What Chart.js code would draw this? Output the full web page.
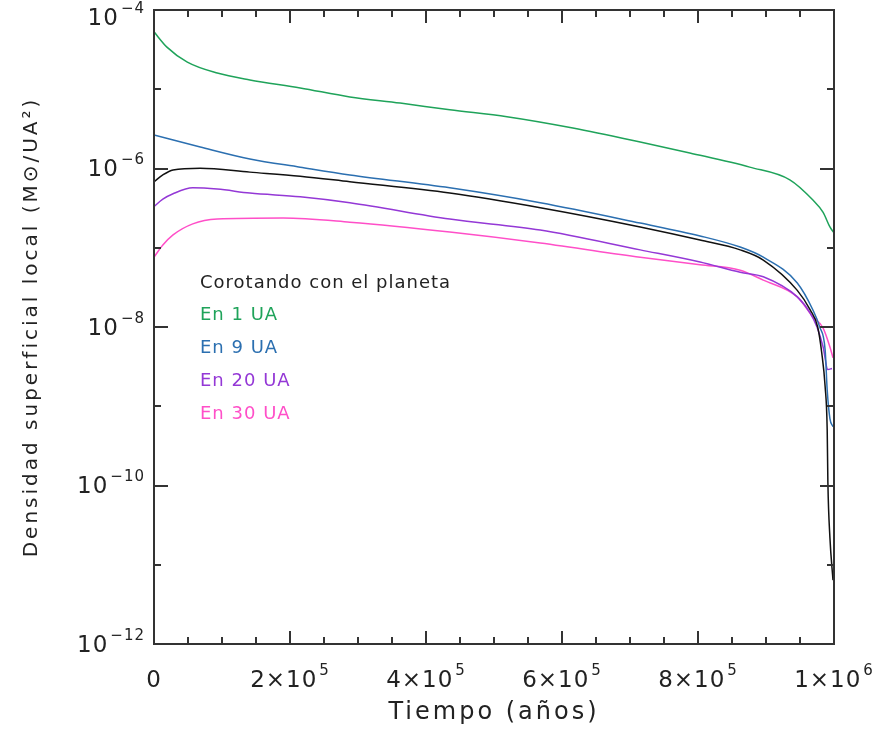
<!DOCTYPE html>
<html lang="es">
<head>
<meta charset="utf-8">
<title>Densidad superficial local</title>
<script src="https://cdn.jsdelivr.net/npm/chart.js@4.4.1/dist/chart.umd.min.js"></script>
<style>
  html, body { margin: 0; padding: 0; background: #fff; }
  #grafico { display: block; }
</style>
</head>
<body>
<canvas id="grafico" width="883" height="731"></canvas>
<script>
// tiempo en años, densidad en M_sol / UA^2
const tiempoPlaneta = [0, 13000, 28000, 68000, 141000, 215000, 288000, 435000, 568000, 715000, 803000, 862000, 896000, 946000, 965000, 976000, 982000, 987000, 990000, 991000, 994000, 998500];
const densidadPlaneta = [6.8e-7, 8.3e-7, 9.6e-7, 1.01e-6, 9.0e-7, 8.0e-7, 6.8e-7, 4.9e-7, 3.2e-7, 1.83e-7, 1.25e-7, 9.4e-8, 7.0e-8, 2.9e-8, 1.64e-8, 1.0e-8, 4.7e-9, 1.75e-9, 5.0e-10, 1.1e-10, 2.2e-11, 6.4e-12];

const tiempo1UA = [0, 19000, 49000, 93000, 141000, 215000, 288000, 362000, 435000, 519000, 616000, 715000, 788000, 876000, 935000, 969000, 984000, 994000, 1000000];
const densidad1UA = [5.3e-5, 3.4e-5, 2.2e-5, 1.6e-5, 1.31e-5, 1.04e-5, 8.0e-6, 6.7e-6, 5.5e-6, 4.5e-6, 3.24e-6, 2.16e-6, 1.57e-6, 1.04e-6, 7.2e-7, 4.0e-7, 2.8e-7, 1.83e-7, 1.54e-7];

const tiempo9UA = [0, 68000, 141000, 215000, 288000, 435000, 568000, 715000, 803000, 862000, 896000, 946000, 969000, 979000, 987000, 990000, 994000, 998500];
const densidad9UA = [2.65e-6, 1.87e-6, 1.32e-6, 1.04e-6, 8.3e-7, 5.7e-7, 3.7e-7, 2.05e-7, 1.41e-7, 1.02e-7, 7.6e-8, 3.6e-8, 1.64e-8, 1.0e-8, 5.1e-9, 1.6e-9, 7.0e-10, 5.5e-10];

const tiempo20UA = [0, 13000, 28000, 57000, 93000, 141000, 215000, 288000, 435000, 568000, 715000, 803000, 862000, 896000, 946000, 965000, 975000, 984000, 991000, 997000];
const densidad20UA = [3.3e-7, 4.1e-7, 4.8e-7, 5.7e-7, 5.5e-7, 4.9e-7, 4.4e-7, 3.7e-7, 2.3e-7, 1.67e-7, 9.4e-8, 6.6e-8, 4.9e-8, 4.3e-8, 2.4e-8, 1.5e-8, 1.0e-8, 5.6e-9, 2.9e-9, 3.0e-9];

const tiempo30UA = [0, 13000, 28000, 57000, 93000, 190000, 288000, 435000, 568000, 715000, 803000, 862000, 896000, 946000, 969000, 984000, 994000, 998500];
const densidad30UA = [7.6e-8, 1.08e-7, 1.45e-7, 2.0e-7, 2.3e-7, 2.37e-7, 2.1e-7, 1.58e-7, 1.15e-7, 7.6e-8, 6.1e-8, 5.2e-8, 3.9e-8, 2.4e-8, 1.34e-8, 9.7e-9, 5.6e-9, 4.1e-9];

// marcas con rótulo: valor, base, exponente
const marcasX = [0, 2e5, 4e5, 6e5, 8e5, 1e6];
const rotulosX = [['0', ''], ['2×10', '5'], ['4×10', '5'], ['6×10', '5'], ['8×10', '5'], ['1×10', '6']];
const marcasY = [1e-4, 1e-6, 1e-8, 1e-10, 1e-12];
const rotulosY = [['10', '−4'], ['10', '−6'], ['10', '−8'], ['10', '−10'], ['10', '−12']];

const familia = "'DejaVu Sans', sans-serif";
const tinta = '#222';

function serie(etiqueta, t, d, color) {
  return {
    label: etiqueta,
    data: t.map((x, i) => ({ x: x, y: d[i] })),
    borderColor: color,
    borderWidth: 1.5,
    pointRadius: 0,
    cubicInterpolationMode: 'monotone',
    fill: false
  };
}

function conExponente(ctx, base, exp, x, y, alinear) {
  ctx.font = '23px ' + familia;
  const wb = ctx.measureText(base).width;
  ctx.font = '15px ' + familia;
  const we = exp ? ctx.measureText(exp).width + 2 : 0;
  const total = wb + we;
  const x0 = alinear === 'right' ? x - total : x - total / 2;
  ctx.textAlign = 'left';
  ctx.textBaseline = 'middle';
  ctx.font = '23px ' + familia;
  ctx.fillText(base, x0, y);
  if (exp) {
    ctx.font = '15px ' + familia;
    ctx.fillText(exp, x0 + wb + 2, y - 10);
  }
}

// texto algo espaciado, también en los títulos de los ejes
const espaciado = {
  id: 'espaciado',
  beforeDraw(chart) {
    chart.ctx.letterSpacing = '3px';
  }
};

// marco, marcas hacia dentro, rótulos y leyenda de texto
const ejes = {
  id: 'ejes',
  afterDraw(chart) {
    const { ctx, chartArea: a, scales: { x, y } } = chart;
    ctx.save();
    ctx.strokeStyle = '#333';
    ctx.lineWidth = 2;
    ctx.strokeRect(a.left, a.top, a.right - a.left, a.bottom - a.top);

    ctx.beginPath();
    for (let v = 0; v <= 1e6; v += 5e4) {
      const px = Math.round(x.getPixelForValue(v));
      const largo = v % 2e5 === 0 ? 13 : 7;
      ctx.moveTo(px, a.bottom); ctx.lineTo(px, a.bottom - largo);
      ctx.moveTo(px, a.top); ctx.lineTo(px, a.top + largo);
    }
    for (let e = -12; e <= -4; e++) {
      const py = Math.round(y.getPixelForValue(Math.pow(10, e)));
      const largo = e % 2 === 0 ? 14 : 7;
      ctx.moveTo(a.left, py); ctx.lineTo(a.left + largo, py);
      ctx.moveTo(a.right, py); ctx.lineTo(a.right - largo, py);
    }
    ctx.stroke();

    ctx.fillStyle = tinta;
    ctx.letterSpacing = '1px';
    marcasX.forEach((v, i) => {
      conExponente(ctx, rotulosX[i][0], rotulosX[i][1], x.getPixelForValue(v), a.bottom + 37, 'center');
    });
    marcasY.forEach((v, i) => {
      const py = Math.max(y.getPixelForValue(v) + 2, 19);
      conExponente(ctx, rotulosY[i][0], rotulosY[i][1], a.left - 9, py, 'right');
    });

    ctx.font = '18px ' + familia;
    ctx.letterSpacing = '1px';
    ctx.textAlign = 'left';
    ctx.textBaseline = 'middle';
    chart.data.datasets.forEach((ds, i) => {
      ctx.fillStyle = ds.borderColor === '#111111' ? tinta : ds.borderColor;
      ctx.fillText(ds.label, a.left + 46, 283 + i * 32.8);
    });
    ctx.restore();
  }
};

new Chart(document.getElementById('grafico'), {
  type: 'line',
  data: {
    datasets: [
      serie('Corotando con el planeta', tiempoPlaneta, densidadPlaneta, '#111111'),
      serie('En 1 UA', tiempo1UA, densidad1UA, '#1fa35a'),
      serie('En 9 UA', tiempo9UA, densidad9UA, '#2b6fb0'),
      serie('En 20 UA', tiempo20UA, densidad20UA, '#9438d6'),
      serie('En 30 UA', tiempo30UA, densidad30UA, '#ff4fc8')
    ]
  },
  options: {
    responsive: false,
    animation: false,
    layout: { padding: { top: 10, right: 49, left: 0, bottom: 0 } },
    plugins: {
      legend: { display: false },
      tooltip: { enabled: false }
    },
    scales: {
      x: {
        type: 'linear',
        min: 0,
        max: 1e6,
        grid: { display: false },
        border: { display: false },
        ticks: { display: false },
        title: {
          display: true,
          text: 'Tiempo (años)',
          color: tinta,
          font: { family: familia, size: 24 },
          padding: { top: 0, bottom: 4 }
        },
        afterFit: s => { s.height = 87; }
      },
      y: {
        type: 'logarithmic',
        min: 1e-12,
        max: 1e-4,
        grid: { display: false },
        border: { display: false },
        ticks: { display: false },
        title: {
          display: true,
          text: 'Densidad superficial local (M⊙/UA²)',
          color: tinta,
          font: { family: familia, size: 20 },
          padding: { top: 20, bottom: 0 }
        },
        afterFit: s => { s.width = 154; }
      }
    }
  },
  plugins: [espaciado, ejes]
});
</script>
</body>
</html>
